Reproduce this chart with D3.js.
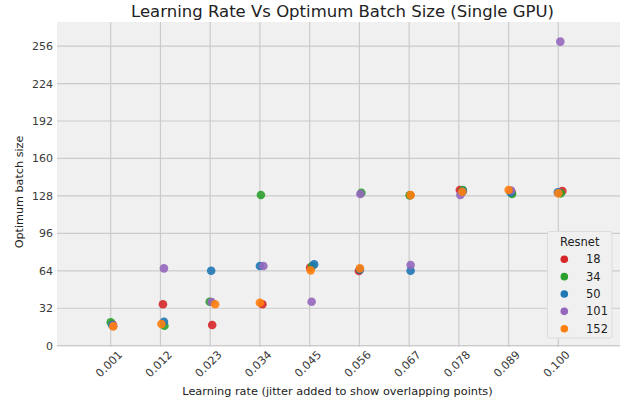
<!DOCTYPE html>
<html>
<head>
<meta charset="utf-8">
<script src="https://cdn.jsdelivr.net/npm/d3@7"></script>
<style>
  html, body { margin: 0; padding: 0; background: #fff; }
  svg { display: block; font-family: "DejaVu Sans", sans-serif; }
</style>
</head>
<body>
<svg id="chart" width="629" height="405"></svg>
<script>
// ---- Data ----
const learningRates = ["0.001","0.012","0.023","0.034","0.045","0.056","0.067","0.078","0.089","0.100"];
const yTicks = [0, 32, 64, 96, 128, 160, 192, 224, 256];
const resnets = ["18", "34", "50", "101", "152"];
const colors = ["#d62728", "#2ca02c", "#1f77b4", "#9467bd", "#ff7f0e"];

// jittered position (in learning-rate index units) and optimum batch size per series
const x18  = [0.04, 0.05, 0.04, 0.05, 0.01, -0.01, 0.02, 0.02, 0.06, 0.08];
const y18  = [18, 35.4, 17.7, 35.4, 66.7, 63.8, 128.5, 133, 131, 132.2];
const x34  = [0.0, 0.08, -0.01, 0.02, 0.05, 0.04, 0.01, 0.08, 0.07, 0.05];
const y34  = [20, 17.1, 37.6, 128.8, 68, 130.7, 128.5, 133, 129.6, 130.2];
const x50  = [0.03, 0.07, 0.02, 0.0, 0.09, 0.01, 0.03, 0.08, 0.04, -0.01];
const y50  = [17.7, 20.5, 64.1, 68.1, 69.5, 65, 64.1, 132, 131, 131];
const x101 = [0.05, 0.07, 0.03, 0.07, 0.04, 0.02, 0.03, 0.03, 0.05, 0.04];
const y101 = [17, 66.1, 37.3, 68.1, 37.6, 129.6, 69, 128.8, 132.6, 259.8];
const x152 = [0.05, 0.02, 0.10, 0.0, 0.02, 0.01, 0.03, 0.07, 0.0, 0.0];
const y152 = [16.5, 18.5, 35.4, 36.7, 64.4, 66.1, 128.8, 131.6, 133, 130.2];

const seriesX = [x18, x34, x50, x101, x152];
const seriesY = [y18, y34, y50, y101, y152];

// ---- Layout ----
const svg = d3.select("#chart");
const plotLeft = 57, plotRight = 620, plotTop = 22, plotBottom = 346.7;

const x = d3.scaleLinear().domain([-1.08, 10.24]).range([plotLeft, plotRight]);
const y = d3.scaleLinear().domain([-0.85, 276.6]).range([plotBottom, plotTop]);

// plot background
svg.append("rect")
  .attr("x", plotLeft).attr("y", plotTop)
  .attr("width", plotRight - plotLeft).attr("height", plotBottom - plotTop)
  .attr("fill", "#f0f0f0");

// grid lines
const grid = svg.append("g");
grid.selectAll("line.v").data(learningRates).join("line")
  .attr("class", "v")
  .attr("x1", (d, i) => x(i)).attr("x2", (d, i) => x(i))
  .attr("y1", plotTop).attr("y2", plotBottom)
  .attr("stroke", "#cbcbcb").attr("stroke-width", 1.2);
grid.selectAll("line.h").data(yTicks).join("line")
  .attr("class", "h")
  .attr("x1", plotLeft).attr("x2", plotRight)
  .attr("y1", d => y(d)).attr("y2", d => y(d))
  .attr("stroke", "#cbcbcb").attr("stroke-width", 1.2);

// y tick labels via axis
const yAxis = d3.axisLeft(y).tickValues(yTicks).tickSize(0).tickPadding(4);
const gy = svg.append("g").attr("transform", `translate(${plotLeft},0)`).call(yAxis);
gy.select(".domain").remove();
gy.selectAll("text").attr("font-size", 11).attr("fill", "#3a3a3a")
  .attr("font-family", "DejaVu Sans");

// x tick labels via axis (rotated)
const xAxis = d3.axisBottom(x).tickValues(d3.range(learningRates.length))
  .tickFormat(i => learningRates[i]).tickSize(0).tickPadding(0);
const gx = svg.append("g").attr("transform", `translate(0,${plotBottom})`).call(xAxis);
gx.select(".domain").remove();
gx.selectAll("text")
  .attr("font-size", 11.2).attr("fill", "#3a3a3a").attr("font-family", "DejaVu Sans")
  .attr("text-anchor", "middle")
  .attr("dy", null)
  .attr("y", 0)
  .attr("dominant-baseline", "central")
  .attr("transform", "translate(-2,17.5) rotate(-45)");

// points
seriesX.forEach((xs, s) => {
  svg.append("g").selectAll("circle").data(xs.map((dx, i) => ({ i, dx, v: seriesY[s][i] })))
    .join("circle")
    .attr("cx", d => x(d.i + d.dx))
    .attr("cy", d => y(d.v))
    .attr("r", 4.3)
    .attr("fill", colors[s])
    .attr("fill-opacity", 0.9);
});

// title
svg.append("text")
  .attr("x", 342.5).attr("y", 17.3)
  .attr("text-anchor", "middle")
  .attr("font-size", 16.5).attr("fill", "#222")
  .text("Learning Rate Vs Optimum Batch Size (Single GPU)");

// axis labels
svg.append("text")
  .attr("x", 337.5).attr("y", 395)
  .attr("text-anchor", "middle")
  .attr("font-size", 11.3).attr("fill", "#222")
  .text("Learning rate (jitter added to show overlapping points)");

svg.append("text")
  .attr("transform", "translate(23,192) rotate(-90)")
  .attr("text-anchor", "middle")
  .attr("font-size", 11.2).attr("fill", "#222")
  .text("Optimum batch size");

// legend
const lg = svg.append("g");
lg.append("rect")
  .attr("x", 547.5).attr("y", 231.5).attr("width", 64.5).attr("height", 106.5)
  .attr("rx", 2)
  .attr("fill", "#f0f0f0").attr("stroke", "#dcdcdc").attr("stroke-width", 1);
lg.append("text")
  .attr("x", 560).attr("y", 246)
  .attr("font-size", 11.5).attr("fill", "#222")
  .text("Resnet");
const items = lg.selectAll("g.item").data(resnets).join("g")
  .attr("class", "item")
  .attr("transform", (d, i) => `translate(0,${259.3 + i * 17.35})`);
items.append("circle").attr("cx", 564.3).attr("cy", 0).attr("r", 3.8)
  .attr("fill", (d, i) => colors[i]);
items.append("text").attr("x", 586).attr("y", 0)
  .attr("dominant-baseline", "central")
  .attr("font-size", 11.5).attr("fill", "#222")
  .text(d => d);
</script>
</body>
</html>
